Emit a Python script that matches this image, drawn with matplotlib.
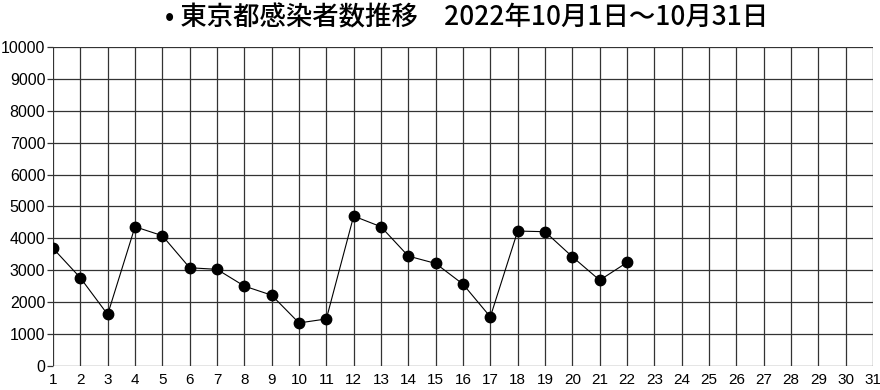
import matplotlib
matplotlib.use('Agg')
import matplotlib.pyplot as plt
from matplotlib import font_manager

plt.rcParams['font.family'] = ['Noto Sans CJK JP', 'DejaVu Sans']

# days of October 2022 and Tokyo new cases
days = list(range(1, 23))
cases = [3690, 2765, 1615, 4365, 4085, 3080, 3030, 2505, 2220, 1350, 1475,
         4700, 4365, 3445, 3215, 2565, 1540, 4230, 4210, 3425, 2690, 3245]
x_ticks = list(range(1, 32))
y_ticks = list(range(0, 10001, 1000))

names = [f.name for f in font_manager.fontManager.ttflist]
narrow = 'Liberation Sans Narrow' if 'Liberation Sans Narrow' in names else 'Liberation Sans'

fig = plt.figure(figsize=(8.8, 3.9), dpi=100)
ax = fig.add_axes([53 / 880, 24 / 390, 820 / 880, 319 / 390])

ax.plot(days, cases, color='black', linewidth=0.8, marker='o',
        markersize=7.5, zorder=3)

ax.set_xlim(1, 31)
ax.set_ylim(0, 10000)
ax.set_xticks(x_ticks)
ax.set_yticks(y_ticks)
ax.set_xticklabels([str(d) for d in x_ticks], fontfamily=narrow, fontsize=11)
ax.set_yticklabels([str(v) for v in y_ticks], fontfamily=narrow, fontsize=11.5)
ax.grid(True, color='#333333', linewidth=0.9)
ax.set_axisbelow(True)
for s in ax.spines.values():
    s.set_visible(False)
ax.tick_params(axis='x', length=0, pad=5)
ax.tick_params(axis='y', length=4, width=0.9, color='#333333', pad=1.5)

fig.text(467 / 880, 0.955, '• 東京都感染者数推移　2022年10月1日～10月31日',
         ha='center', va='center', fontsize=19, fontweight='medium')

fig.savefig('out.png', dpi=100)
